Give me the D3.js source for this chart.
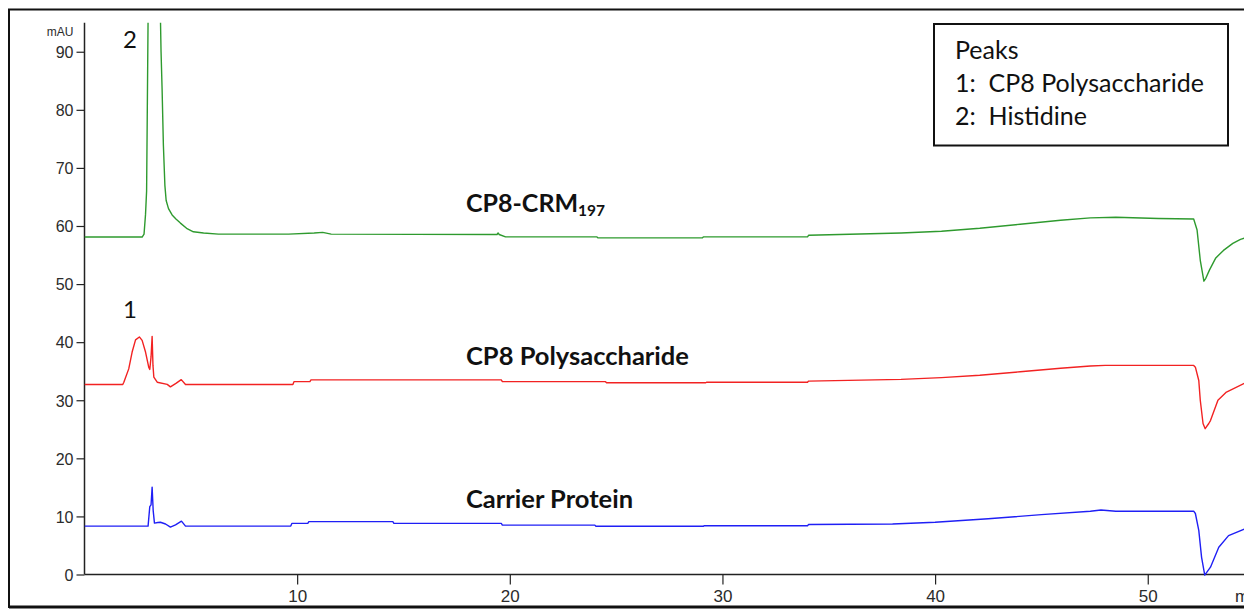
<!DOCTYPE html>
<html>
<head>
<meta charset="utf-8">
<script src="https://cdn.jsdelivr.net/npm/d3@7/dist/d3.min.js"></script>
<style>
  html, body { margin: 0; padding: 0; background: #fff; overflow: hidden; }
  svg { display: block; }
  .tick-label { font-family: "Liberation Sans Narrow", "Arial Narrow", "Liberation Sans", Arial, sans-serif; fill: #2b2b2b; }
  .trace-name { font-family: Lato, "Open Sans", sans-serif; font-weight: 700; fill: #111; }
  .peak-num { font-family: Lato, "Open Sans", sans-serif; fill: #111; }
  .legend-text { font-family: Lato, "Open Sans", sans-serif; fill: #111; }
</style>
</head>
<body>
<svg id="chart" width="1244" height="609"></svg>
<script>
// Retention time (min) and absorbance (mAU) for each chromatogram trace
const crmTime = [0, 2.71, 2.8, 2.87, 2.92, 2.95, 3.0, 3.28, 3.55, 3.6, 3.65, 3.71, 3.78, 3.84, 3.95, 4.12, 4.3, 4.51, 4.8, 5.12, 5.6, 6.3, 9.6, 10.8, 11.2, 11.6, 19.4, 19.45, 19.5, 19.8, 24.1, 24.15, 29.05, 29.1, 34.0, 34.05, 38.4, 40.3, 42.1, 44.0, 45.9, 47.3, 48.5, 50.5, 52.16, 52.32, 52.47, 52.64, 52.73, 52.9, 53.2, 53.56, 54.0, 54.36, 54.6];
const crmValue = [58.1, 58.1, 58.6, 62, 66, 78.5, 100, 160, 100, 90, 83.4, 73.9, 67, 64.4, 63.0, 61.9, 61.2, 60.5, 59.6, 59.0, 58.8, 58.6, 58.6, 58.8, 58.9, 58.6, 58.54, 58.8, 58.54, 58.12, 58.12, 57.95, 57.95, 58.12, 58.12, 58.4, 58.8, 59.1, 59.6, 60.3, 61.0, 61.4, 61.5, 61.3, 61.2, 59.3, 54.1, 50.5, 51.0, 52.4, 54.5, 55.8, 57.0, 57.7, 57.95];

const polyTime = [0, 1.8, 1.85, 2.08, 2.24, 2.4, 2.58, 2.71, 2.87, 3.02, 3.07, 3.13, 3.18, 3.22, 3.26, 3.42, 3.89, 4.04, 4.3, 4.55, 4.75, 9.8, 9.85, 10.6, 10.65, 19.6, 19.65, 24.5, 24.55, 29.2, 29.25, 34.0, 34.05, 38.4, 40.3, 42.1, 44.0, 45.9, 47.3, 48.0, 52.16, 52.24, 52.4, 52.47, 52.6, 52.7, 52.87, 52.95, 53.3, 53.7, 54.6];
const polyValue = [32.7, 32.7, 33.1, 35.4, 38.3, 40.4, 40.9, 40.3, 38.3, 35.7, 35.3, 37.5, 41.0, 36.0, 34.0, 33.1, 32.74, 32.3, 32.9, 33.55, 32.7, 32.7, 33.2, 33.2, 33.5, 33.5, 33.2, 33.2, 33.0, 33.0, 33.1, 33.1, 33.3, 33.6, 33.9, 34.3, 34.9, 35.5, 35.9, 36.0, 36.0, 35.7, 33.4, 30.0, 26.0, 25.1, 26.0, 26.5, 30.0, 31.4, 33.0];

const carrierTime = [0, 2.99, 3.07, 3.13, 3.18, 3.23, 3.29, 3.45, 3.57, 3.81, 4.04, 4.28, 4.56, 4.75, 9.7, 9.75, 10.5, 10.55, 14.5, 14.55, 19.6, 19.65, 24.0, 24.05, 29.1, 29.15, 34.0, 34.05, 38.0, 40.0, 42.5, 45.0, 47.3, 47.8, 48.5, 52.16, 52.24, 52.4, 52.53, 52.68, 52.95, 53.34, 53.8, 54.6];
const carrierValue = [8.33, 8.33, 11.7, 12.0, 15.05, 11.0, 8.85, 8.95, 9.0, 8.7, 8.15, 8.56, 9.19, 8.33, 8.33, 8.8, 8.8, 9.1, 9.1, 8.8, 8.8, 8.5, 8.5, 8.3, 8.3, 8.4, 8.4, 8.6, 8.7, 9.0, 9.6, 10.3, 10.9, 11.1, 10.9, 10.9, 10.5, 7.6, 3.0, -0.1, 1.26, 4.7, 6.7, 7.9];

// Axis settings
const timeDomain = [0, 54.6];
const absDomain = [0, 95];
const xMajorTicks = [10, 20, 30, 40, 50];
const yMajorTicks = [0, 10, 20, 30, 40, 50, 60, 70, 80, 90];
const xUnit = "min";
const yUnit = "mAU";

// Annotations
const traceNames = ["CP8-CRM", "CP8 Polysaccharide", "Carrier Protein"];
const crmSubscript = "197";
const peakNumbers = ["1", "2"];
const legendLines = ["Peaks", "1:  CP8 Polysaccharide", "2:  Histidine"];

const svg = d3.select("#chart");

// Outer frame around the whole figure
svg.append("path")
  .attr("d", "M1250,9.5 H9 V607 H1250")
  .attr("fill", "none")
  .attr("stroke", "#111")
  .attr("stroke-width", 2);
svg.append("line").attr("x1", 9).attr("x2", 1244).attr("y1", 607).attr("y2", 607)
  .attr("stroke", "#111").attr("stroke-width", 3);

const x = d3.scaleLinear().domain(timeDomain).range([84.5, 84.5 + 54.6 * 21.265]);
const y = d3.scaleLinear().domain(absDomain).range([574.5, 22.7]);

const plotLeft = x(timeDomain[0]);
const plotTop = y(absDomain[1]);
const plotBottom = y(0);

svg.append("clipPath").attr("id", "plot-clip")
  .append("rect")
  .attr("x", plotLeft).attr("y", plotTop)
  .attr("width", 1244 - plotLeft).attr("height", plotBottom - plotTop + 3);

// Y axis: major ticks every 10, minor every 2
const yMinor = d3.range(0, 95, 2).filter(v => v % 10 !== 0);
const yAxisMinor = d3.axisLeft(y).tickValues(yMinor).tickSize(4).tickFormat("");
const yAxisMajor = d3.axisLeft(y).tickValues(yMajorTicks).tickSize(8).tickPadding(3).tickFormat(d3.format("d"));

const gy = svg.append("g").attr("transform", `translate(${plotLeft},0)`);
gy.call(yAxisMinor);
gy.call(yAxisMajor);
gy.select(".domain").remove();
gy.selectAll("line").attr("stroke", "#222").attr("stroke-width", 1.2);
gy.selectAll("text").attr("class", "tick-label").style("font-size", "16px").attr("dy", "0.36em");
svg.append("line")
  .attr("x1", plotLeft).attr("x2", plotLeft)
  .attr("y1", plotTop).attr("y2", plotBottom)
  .attr("stroke", "#222").attr("stroke-width", 1.5);
svg.append("text").attr("class", "tick-label")
  .attr("x", plotLeft - 11).attr("y", 36)
  .attr("text-anchor", "end")
  .style("font-size", "12px")
  .text(yUnit);

// X axis: major ticks every 10, minor every 2
const xMinor = d3.range(2, 55, 2).filter(v => v % 10 !== 0);
const xAxisMinor = d3.axisBottom(x).tickValues(xMinor).tickSize(5).tickFormat("");
const xAxisMajor = d3.axisBottom(x).tickValues(xMajorTicks).tickSize(10).tickPadding(5).tickFormat(d3.format("d"));

const gx = svg.append("g").attr("transform", `translate(0,${plotBottom})`);
gx.call(xAxisMinor);
gx.call(xAxisMajor);
gx.select(".domain").remove();
gx.selectAll("line").attr("stroke", "#222").attr("stroke-width", 1.2);
gx.selectAll("text").attr("class", "tick-label").style("font-size", "17px");
svg.append("line")
  .attr("x1", plotLeft).attr("x2", 1244)
  .attr("y1", plotBottom).attr("y2", plotBottom)
  .attr("stroke", "#222").attr("stroke-width", 1.5);
// Unit label of the time axis sits at the right edge of the figure
svg.append("text").attr("class", "tick-label")
  .attr("x", 1235).attr("y", 602)
  .style("font-size", "17px")
  .text(xUnit);

// Traces
const traces = [
  { time: crmTime, value: crmValue, color: "#2e9a2e" },
  { time: polyTime, value: polyValue, color: "#f22222" },
  { time: carrierTime, value: carrierValue, color: "#1f1ff5" }
];

const line = d3.line()
  .x(d => x(d[0]))
  .y(d => y(d[1]));

const traceGroup = svg.append("g").attr("clip-path", "url(#plot-clip)");
traces.forEach(tr => {
  traceGroup.append("path")
    .datum(d3.zip(tr.time, tr.value))
    .attr("fill", "none")
    .attr("stroke", tr.color)
    .attr("stroke-width", 1.4)
    .attr("stroke-linejoin", "round")
    .attr("d", line);
});

// Trace names
const nameX = 466;
const crmName = svg.append("text").attr("class", "trace-name")
  .attr("x", nameX).attr("y", 212)
  .style("font-size", "25px");
crmName.append("tspan").text(traceNames[0]);
crmName.append("tspan").attr("dy", 4).style("font-size", "15.5px").text(crmSubscript);

svg.append("text").attr("class", "trace-name")
  .attr("x", nameX).attr("y", 365)
  .style("font-size", "25.5px")
  .text(traceNames[1]);

svg.append("text").attr("class", "trace-name")
  .attr("x", nameX).attr("y", 508)
  .style("font-size", "25.5px")
  .text(traceNames[2]);

// Peak numbers
svg.append("text").attr("class", "peak-num")
  .attr("x", 130).attr("y", 317.5).attr("text-anchor", "middle")
  .style("font-size", "24px").text(peakNumbers[0]);
svg.append("text").attr("class", "peak-num")
  .attr("x", 130).attr("y", 47.7).attr("text-anchor", "middle")
  .style("font-size", "24px").text(peakNumbers[1]);

// Peak key box
svg.append("rect")
  .attr("x", 934).attr("y", 24)
  .attr("width", 294).attr("height", 121.5)
  .attr("fill", "#fff").attr("stroke", "#111").attr("stroke-width", 2);
const legendBaselines = [59.3, 91.7, 125];
legendLines.forEach((t, i) => {
  svg.append("text").attr("class", "legend-text")
    .attr("x", 955).attr("y", legendBaselines[i])
    .style("font-size", "25px")
    .style("white-space", "pre")
    .attr("xml:space", "preserve")
    .text(t);
});
</script>
</body>
</html>
